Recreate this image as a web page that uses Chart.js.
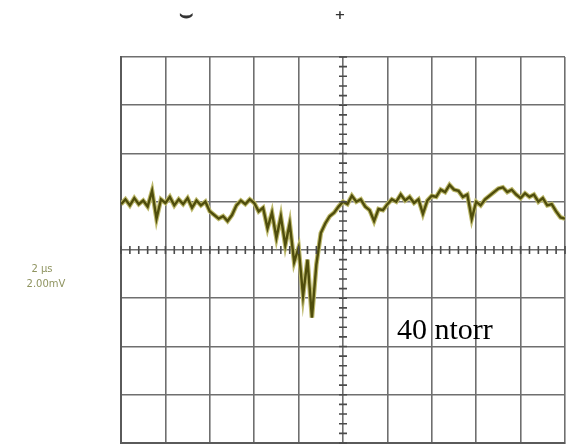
<!DOCTYPE html>
<html>
<head>
<meta charset="utf-8">
<script src="https://cdn.jsdelivr.net/npm/chart.js@4.4.0/dist/chart.umd.min.js"></script>
<style>
  html, body { margin: 0; padding: 0; background: #fff; }
  #wrap { width: 572px; height: 446px; }
</style>
</head>
<body>
<div id="wrap"><canvas id="scope" width="572" height="446"></canvas></div>
<script>
// time base: 2 us/div, 10 divisions; vertical: 2.00 mV/div, 8 divisions
let tempo = [
  -10, -9.8, -9.6, -9.4, -9.2, -9, -8.8, -8.6, -8.4, -8.2,
  -8, -7.8, -7.6, -7.4, -7.2, -7, -6.8, -6.6, -6.4, -6.2,
  -6, -5.8, -5.6, -5.4, -5.2, -5, -4.8, -4.6, -4.4, -4.2,
  -4, -3.8, -3.6, -3.4, -3.2, -3, -2.8, -2.6, -2.4, -2.2,
  -2, -1.8, -1.6, -1.4, -1.2, -1, -0.8, -0.6, -0.4, -0.2,
  0, 0.2, 0.4, 0.6, 0.8, 1, 1.2, 1.4, 1.6, 1.8,
  2, 2.2, 2.4, 2.6, 2.8, 3, 3.2, 3.4, 3.6, 3.8,
  4, 4.2, 4.4, 4.6, 4.8, 5, 5.2, 5.4, 5.6, 5.8,
  6, 6.2, 6.4, 6.6, 6.8, 7, 7.2, 7.4, 7.6, 7.8,
  8, 8.2, 8.4, 8.6, 8.8, 9, 9.2, 9.4, 9.6, 9.8,
  10
];
let sinal = [
  1.9, 2.1, 1.85, 2.15, 1.9, 2.05, 1.8, 2.45, 1.3, 2.1,
  1.95, 2.2, 1.85, 2.1, 1.9, 2.15, 1.75, 2.05, 1.85, 2.0,
  1.6, 1.45, 1.3, 1.4, 1.2, 1.45, 1.85, 2.05, 1.9, 2.1,
  1.95, 1.6, 1.75, 0.9, 1.55, 0.5, 1.4, 0.2, 1.1, -0.5,
  0.1, -1.9, -0.4, -2.8, -0.6, 0.7, 1.1, 1.4, 1.55, 1.8,
  2.0, 1.9, 2.25, 2.0, 2.1, 1.8, 1.65, 1.2, 1.7, 1.65,
  1.9, 2.1, 2.0, 2.3, 2.05, 2.2, 1.95, 2.1, 1.5, 2.05,
  2.25, 2.2, 2.5, 2.4, 2.7, 2.5, 2.45, 2.2, 2.3, 1.3,
  2.0, 1.85, 2.1, 2.25, 2.4, 2.55, 2.6, 2.4, 2.5, 2.3,
  2.15, 2.35, 2.2, 2.3, 2.0, 2.15, 1.85, 1.9, 1.6, 1.35,
  1.3
];
let escalaTempo = ['2 \u00b5s', '2.00mV'];
let rotulo = '40 ntorr';

let pontos = tempo.map((t, i) => ({ x: t, y: sinal[i] }));

// little tick marks on the two centre axes (5 per division)
let marcasCentro = {
  id: 'marcasCentro',
  afterDraw(chart) {
    let ctx = chart.ctx;
    let sx = chart.scales.x, sy = chart.scales.y;
    let cx = sx.getPixelForValue(0), cy = sy.getPixelForValue(0);
    ctx.save();
    ctx.strokeStyle = '#4a4a4a';
    ctx.lineWidth = 1.6;
    ctx.beginPath();
    for (let v = -10; v <= 10.001; v += 0.4) {
      let px = sx.getPixelForValue(v);
      ctx.moveTo(px, cy - 4); ctx.lineTo(px, cy + 4);
    }
    for (let v = -8; v <= 8.001; v += 0.4) {
      let py = sy.getPixelForValue(v);
      ctx.moveTo(cx - 4, py); ctx.lineTo(cx + 4, py);
    }
    ctx.stroke();

    // side readout
    ctx.fillStyle = '#8f9460';
    ctx.font = '10px "DejaVu Sans"';
    ctx.textAlign = 'center';
    ctx.fillText(escalaTempo[0], 42, 272);
    ctx.fillText(escalaTempo[1], 46, 287);

    // top markers
    ctx.fillStyle = '#333';
    ctx.font = 'bold 22px "DejaVu Sans"';
    ctx.fillText('\u2323', 186, 22);
    ctx.font = 'bold 13px "DejaVu Sans"';
    ctx.fillText('+', 340, 19);

    // label
    ctx.fillStyle = '#000';
    ctx.font = '30px "Liberation Serif"';
    ctx.textAlign = 'left';
    ctx.fillText(rotulo, 397, 339);
    ctx.restore();
  }
};

let grade = {
  color: '#6f6f6f',
  lineWidth: 1.6,
  drawTicks: false
};

new Chart(document.getElementById('scope').getContext('2d'), {
  type: 'line',
  data: {
    datasets: [
      {
        data: pontos,
        borderColor: '#4f4d0c',
        borderWidth: 2.4,
        pointRadius: 0,
        tension: 0
      },
      {
        data: pontos,
        borderColor: '#bdb96c',
        borderWidth: 4.6,
        pointRadius: 0,
        tension: 0
      }
    ]
  },
  options: {
    responsive: false,
    animation: false,
    layout: { padding: { left: 121, right: 7, top: 57, bottom: 3 } },
    plugins: { legend: { display: false }, tooltip: { enabled: false } },
    scales: {
      x: {
        type: 'linear', min: -10, max: 10,
        ticks: { stepSize: 2, display: false },
        grid: grade,
        border: { display: true, color: '#5a5a5a', width: 2 }
      },
      y: {
        min: -8, max: 8,
        ticks: { stepSize: 2, display: false },
        grid: grade,
        border: { display: true, color: '#5a5a5a', width: 2 }
      }
    }
  },
  plugins: [marcasCentro]
});
</script>
</body>
</html>
